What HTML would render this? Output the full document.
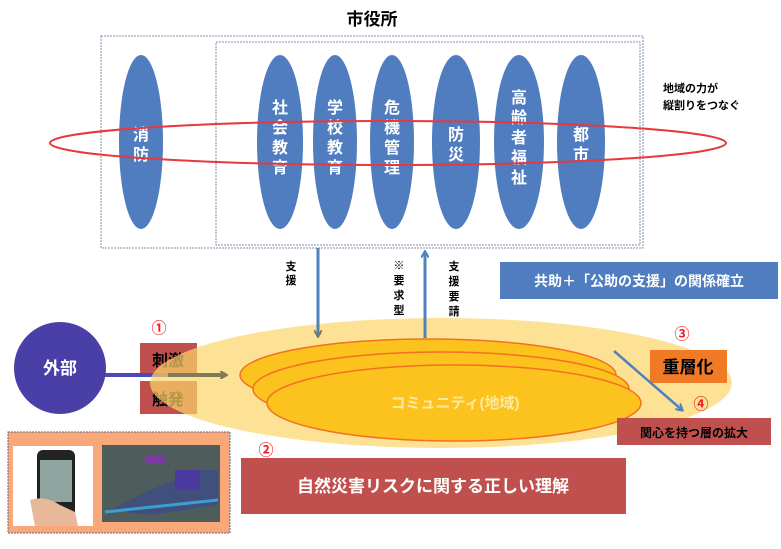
<!DOCTYPE html>
<html><head><meta charset="utf-8"><style>
html,body{margin:0;padding:0;background:#fff;width:781px;height:549px;overflow:hidden}
svg{display:block}
text{font-family:"Liberation Sans","Noto Sans CJK JP",sans-serif;font-weight:bold}
</style></head><body>
<svg width="781" height="549" viewBox="0 0 781 549" xmlns="http://www.w3.org/2000/svg">
<defs>
<marker id="ah" markerWidth="8" markerHeight="8" refX="6" refY="4" orient="auto" markerUnits="userSpaceOnUse"><path d="M0,0 L7,4 L0,8" fill="none" stroke="#4f81bd" stroke-width="2"/></marker>
<marker id="ahg" markerWidth="8" markerHeight="8" refX="6" refY="4" orient="auto" markerUnits="userSpaceOnUse"><path d="M0,0 L7,4 L0,8" fill="none" stroke="#807a5a" stroke-width="2"/></marker>
</defs>
<text x="372" y="25" font-size="17" text-anchor="middle" fill="#000">市役所</text>
<rect x="101" y="36" width="542" height="212" fill="none" stroke="#7f8fa9" stroke-dasharray="2,1"/>
<rect x="216" y="42" width="424" height="203" fill="none" stroke="#7f8fa9" stroke-dasharray="2,1"/>
<g fill="#4f7dbf">
<ellipse cx="141" cy="142" rx="22" ry="87"/>
<ellipse cx="280" cy="142" rx="23" ry="87"/>
<ellipse cx="335" cy="142" rx="22" ry="87"/>
<ellipse cx="392" cy="142" rx="22" ry="87"/>
<ellipse cx="456" cy="142" rx="24" ry="87"/>
<ellipse cx="519" cy="142" rx="25" ry="87"/>
<ellipse cx="581" cy="142" rx="24" ry="87"/>
</g>
<g fill="#fff" font-size="16" text-anchor="middle">
<text x="141" y="140">消</text><text x="141" y="160">防</text>
<text x="280" y="113">社</text><text x="280" y="133">会</text><text x="280" y="153">教</text><text x="280" y="173">育</text>
<text x="335" y="113">学</text><text x="335" y="133">校</text><text x="335" y="153">教</text><text x="335" y="173">育</text>
<text x="392" y="113">危</text><text x="392" y="133">機</text><text x="392" y="153">管</text><text x="392" y="173">理</text>
<text x="456" y="140">防</text><text x="456" y="160">災</text>
<text x="519" y="103">高</text><text x="519" y="123">齢</text><text x="519" y="143">者</text><text x="519" y="163">福</text><text x="519" y="183">祉</text>
<text x="581" y="140">都</text><text x="581" y="160">市</text>
</g>
<ellipse cx="388" cy="143" rx="338" ry="22" fill="none" stroke="#e8383d" stroke-width="2"/>
<text x="663" y="92" font-size="11" fill="#000">地域の力が</text>
<text x="663" y="109" font-size="11" fill="#000">縦割りをつなぐ</text>

<rect x="500" y="262" width="278" height="37" fill="#4f7dbf"/>
<text x="639" y="286" font-size="14" fill="#fff" text-anchor="middle">共助＋「公助の支援」の関係確立</text>

<!-- bottom boxes -->
<rect x="140" y="343" width="57" height="32" fill="#c0504d"/>
<rect x="140" y="381" width="57" height="33" fill="#c0504d"/>
<text x="168" y="366" font-size="16" fill="#000" text-anchor="middle">刺激</text>
<text x="168" y="405" font-size="16" fill="#000" text-anchor="middle">触発</text>
<line x1="100" y1="375" x2="170" y2="375" stroke="#4b4bb5" stroke-width="4"/>

<!-- yellow big ellipse -->
<ellipse cx="441" cy="383" rx="291" ry="65" fill="#fcd56a" fill-opacity="0.7"/>
<line x1="168" y1="375" x2="226" y2="375" stroke="#807a5a" stroke-width="4" marker-end="url(#ahg)"/>
<ellipse cx="428" cy="375" rx="188" ry="36" fill="#fcc21e" stroke="#f37021" stroke-width="1.5"/>
<ellipse cx="441" cy="389" rx="188" ry="37" fill="#fcc21e" stroke="#f37021" stroke-width="1.5"/>
<ellipse cx="454" cy="403" rx="187" ry="38" fill="#fcc21e" stroke="#f37021" stroke-width="1.5"/>
<text x="455" y="408" font-size="15" fill="#fde9a0" text-anchor="middle" font-weight="normal">コミュニティ(地域)</text>

<circle cx="60" cy="368" r="46" fill="#4a3fa6"/>
<text x="60" y="374" font-size="17" fill="#fff" text-anchor="middle">外部</text>

<!-- vertical arrows -->
<line x1="318" y1="248" x2="318" y2="336" stroke="#4f81bd" stroke-width="3" marker-end="url(#ahg)"/>
<line x1="425" y1="338" x2="425" y2="252" stroke="#4f81bd" stroke-width="3" marker-end="url(#ah)"/>
<g font-size="11" fill="#000" text-anchor="middle">
<text x="291" y="270">支</text><text x="291" y="284">援</text>
<text x="399" y="269">※</text><text x="399" y="284">要</text><text x="399" y="299">求</text><text x="399" y="314">型</text>
<text x="454" y="270">支</text><text x="454" y="285">援</text><text x="454" y="300">要</text><text x="454" y="315">請</text>
</g>

<rect x="650" y="350" width="77" height="33" fill="#f07a26"/>
<text x="688" y="373" font-size="17" fill="#000" text-anchor="middle">重層化</text>
<line x1="614" y1="351" x2="682" y2="410" stroke="#4f81bd" stroke-width="2.5" marker-end="url(#ah)"/>
<rect x="617" y="418" width="154" height="27" fill="#c0504d"/>
<text x="694" y="437" font-size="12" fill="#000" text-anchor="middle">関心を持つ層の拡大</text>

<g fill="#ee1c1c" font-size="15" text-anchor="middle">
<text x="159" y="333">①</text>
<text x="266" y="455">②</text>
<text x="682" y="339">③</text>
<text x="701" y="409">④</text>
</g>

<rect x="241" y="458" width="385" height="56" fill="#c0504d"/>
<text x="433" y="492" font-size="17" fill="#fff" text-anchor="middle" font-weight="normal">自然災害リスクに関する正しい理解</text>

<rect x="8" y="432" width="222" height="101" fill="#f9a87a" stroke="#5d6a86" stroke-dasharray="2,1"/>
<rect x="13" y="446" width="80" height="80" fill="#fff"/>
<rect x="37" y="450" width="38" height="72" rx="6" fill="#222"/>
<rect x="40" y="460" width="32" height="42" fill="#8fa6a0"/>
<path d="M30,500 Q45,495 60,505 L75,512 L78,526 L35,526 Z" fill="#e8b89b"/>
<rect x="102" y="445" width="118" height="77" fill="#4e5c5c"/>
<path d="M110,510 L150,490 L200,470 L218,470 L218,505 L150,515 Z" fill="#3a4a8a" opacity="0.7"/>
<path d="M105,512 L218,500" stroke="#3aa0d0" stroke-width="3"/>
<rect x="145" y="455" width="20" height="8" fill="#7a3aa0"/>
<rect x="175" y="470" width="25" height="20" fill="#4a3aa0"/>
</svg>
</body></html>
